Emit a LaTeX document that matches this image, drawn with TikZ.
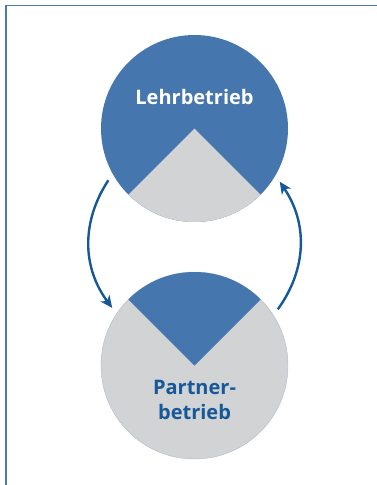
\documentclass[tikz,border=0pt]{standalone}
\usepackage{fontspec}
\setsansfont{Open Sans}
\usetikzlibrary{arrows.meta, calc, positioning}

\definecolor{lbblue}{RGB}{69,118,173}
\definecolor{lbgray}{RGB}{209,211,213}
\definecolor{lbdark}{RGB}{22,88,152}
\definecolor{lbframe}{RGB}{74,122,181}

\tikzset{
  disc/.style={circle,minimum size=187pt,inner sep=0pt,outer sep=7pt},
  lbl/.style={font=\sffamily\bfseries\fontsize{20}{25}\selectfont,align=center,inner sep=0pt},
  turn/.style={color=lbdark,line width=2.4pt,-{Stealth[length=12pt,width=11pt,inset=3.5pt]}}
}

\begin{document}
\begin{tikzpicture}[x=1pt,y=1pt]
\useasboundingbox (0,0) rectangle (377,-485);
\draw[color=lbframe,line width=1.4pt] (6,-485) -- (6,-5.5) -- (377,-5.5);
% the two firms
\node[disc,fill=lbblue] at (194.5,-128.5) (lehr) {};
\node[disc,fill=lbgray,draw=lbblue!25!lbgray,line width=0.4pt] at (194.5,-365.5) (partner) {};
\fill[lbgray] (lehr.center) -- ++(225:93.5pt) arc[start angle=225,end angle=315,radius=93.5pt] -- cycle;
\fill[lbblue] (partner.center) -- ++(45:93.5pt) arc[start angle=45,end angle=135,radius=93.5pt] -- cycle;
\node[lbl,text=white,anchor=base] at ([yshift=24.5pt]lehr.center) (lehr-txt) {Lehrbetrieb};
\node[lbl,text=lbdark,anchor=base] at ([yshift=-54pt]partner.center) (partner-txt) {Partner-\\betrieb};
% exchange
\draw[turn] (lehr.211.5) to[bend right=35] (partner.145.5);
\draw[turn] (partner.34.5) to[bend right=35] (lehr.328.5);
\end{tikzpicture}
\end{document}
